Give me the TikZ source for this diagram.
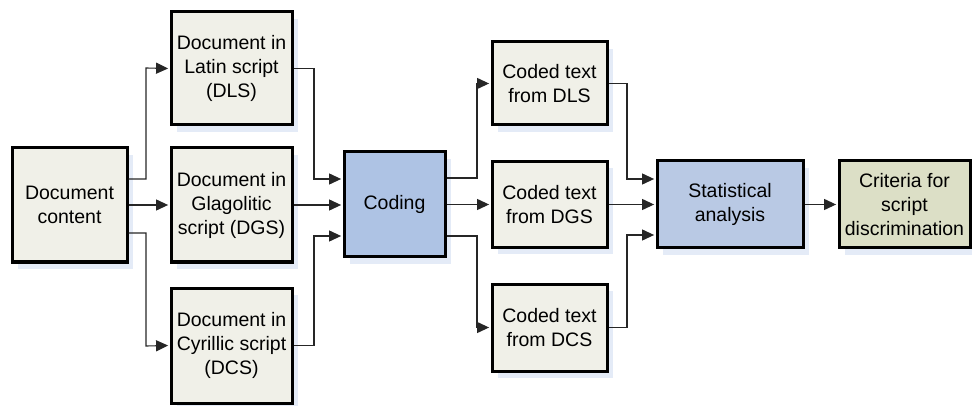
\documentclass[tikz,border=0pt]{standalone}
\usepackage{fontspec}
\setmainfont{Liberation Sans}
\usetikzlibrary{arrows.meta,shadows}
\definecolor{boxbeige}{HTML}{F0F0E8}
\definecolor{boxblue}{HTML}{AEC3E4}
\definecolor{boxblue2}{HTML}{B9C9E4}
\definecolor{boxgreen}{HTML}{DCDFC6}
\definecolor{shade}{HTML}{E4EBF7}
\tikzset{
  blk/.style={draw=black, line width=3pt, inner sep=0pt, align=center,
    font=\fontsize{19.5}{24}\selectfont,
    general shadow={fill=shade, draw=none, shadow xshift=6pt, shadow yshift=-7pt}},
  doc/.style={blk, fill=boxbeige},
  proc/.style={blk, fill=boxblue},
  conn/.style={draw=black!85, line width=1.1pt, shorten >=1.4pt,
    -{Triangle[length=12pt,width=11pt]}},
}
\begin{document}
\begin{tikzpicture}[x=1pt,y=-1pt]
\useasboundingbox (0,0) rectangle (972,406);
\node[doc, minimum width=115pt, minimum height=114pt] (content) at (69.5,205) {Document\\content};
\node[doc, minimum width=121pt, minimum height=113pt] (dls) at (231.5,68.5) {Document in\\Latin script\\(DLS)};
\node[doc, minimum width=121pt, minimum height=114pt] (dgs) at (231.5,205) {Document in\\Glagolitic\\script (DGS)};
\node[doc, minimum width=121pt, minimum height=115pt] (dcs) at (231.5,345.5) {Document in\\Cyrillic script\\(DCS)};
\node[proc, minimum width=101pt, minimum height=105pt] (coding) at (394.5,204.5) {Coding};
\node[doc, minimum width=115pt, minimum height=83pt] (cdls) at (549.5,83.5) {Coded text\\from DLS};
\node[doc, minimum width=115pt, minimum height=86pt] (cdgs) at (549.5,204.5) {Coded text\\from DGS};
\node[doc, minimum width=115pt, minimum height=87pt] (cdcs) at (549.5,327.5) {Coded text\\from DCS};
\node[blk, fill=boxblue2, minimum width=146pt, minimum height=87pt] (stat) at (730,204.5) {Statistical\\analysis};
\node[blk, fill=boxgreen, minimum width=131pt, minimum height=87pt] (crit) at (904.5,204.5) {Criteria for\\script\\discrimination};

% document content to the three scripts
\draw[conn] ([yshift=26pt]content.east) -| (146,68) -- (dls.west);
\draw[conn] (content.east) -- (dgs.west);
\draw[conn] ([yshift=-28pt]content.east) -| (146,346) -- (dcs.west);
% scripts into coding
\draw[conn] (dls.east) -| (314,179) -- (coding.west |- 0,179);
\draw[conn] (dgs.east) -- (coding.west |- 0,205);
\draw[conn] (dcs.east) -| (314,236) -- (coding.west |- 0,236);
% coding to coded texts
\draw[conn] (coding.east |- 0,178) -| (477,83.5) -- (cdls.west);
\draw[conn] (coding.east |- 0,204.5) -- (cdgs.west);
\draw[conn] (coding.east |- 0,236) -| (477,327.5) -- (cdcs.west);
% coded texts into statistical analysis
\draw[conn] (cdls.east) -| (627,179) -- (stat.west |- 0,179);
\draw[conn] (cdgs.east) -- (stat.west);
\draw[conn] (cdcs.east) -| (627,235) -- (stat.west |- 0,235);
% result
\draw[conn] (stat.east) -- (crit.west);
\end{tikzpicture}
\end{document}
